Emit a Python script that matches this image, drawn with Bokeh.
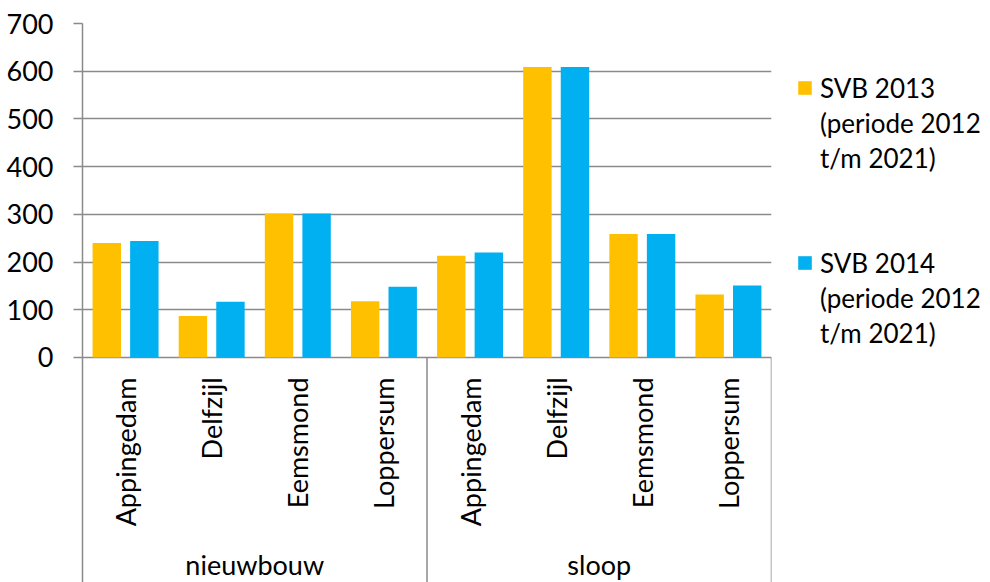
import math

from bokeh.core.properties import value
from bokeh.embed import file_html
from bokeh.models import (ColumnDataSource, FactorRange, FixedTicker, Legend,
                          LegendItem, Range1d)
from bokeh.plotting import figure
from bokeh.resources import INLINE
from bokeh.transform import dodge

# Woningbouwopgave per gemeente: nieuwbouw en sloop
groups = ["nieuwbouw", "sloop"]
municipalities = ["Appingedam", "Delfzijl", "Eemsmond", "Loppersum"]
svb_2013 = [240, 87, 302, 118, 213, 609, 259, 132]
svb_2014 = [244, 117, 302, 148, 220, 609, 259, 151]
series_names = ["SVB 2013", "SVB 2014"]
series_period = ["(periode 2012", "t/m 2021)"]
y_ticks = [0, 100, 200, 300, 400, 500, 600, 700]

FONT = value("Lato")
GRID = "#8a8a8a"
ORANGE = "#FFC000"
BLUE = "#00B0F0"

factors = [(g, m) for g in groups for m in municipalities]
source = ColumnDataSource(dict(x=factors, a=svb_2013, b=svb_2014))

x_range = FactorRange(*factors, factor_padding=0, group_padding=0,
                      range_padding=0)
# the frame runs down to the bottom of the page; the category labels
# sit below zero inside it
y_range = Range1d(-471.6, 700)

p = figure(frame_width=689, frame_height=559, x_range=x_range,
           y_range=y_range, output_backend="svg", toolbar_location=None,
           x_axis_location=None, min_border_left=82, min_border_right=0,
           min_border_top=23, min_border_bottom=0)
p.outline_line_color = None
p.background_fill_color = "white"

# y axis
yaxis = p.yaxis[0]
yaxis.ticker = FixedTicker(ticks=y_ticks)
yaxis.axis_line_color = GRID
yaxis.axis_line_width = 1.5
yaxis.major_tick_line_color = GRID
yaxis.major_tick_line_width = 1.5
yaxis.major_tick_out = 9
yaxis.major_tick_in = 0
yaxis.minor_tick_line_color = None
yaxis.major_label_standoff = 20
yaxis.major_label_text_font = "Lato"
yaxis.major_label_text_font_size = "27px"
yaxis.major_label_text_color = "black"

p.ygrid.ticker = FixedTicker(ticks=y_ticks)
p.ygrid.grid_line_color = GRID
p.ygrid.grid_line_width = 1.5
p.xgrid.grid_line_color = None

# bars
r2013 = p.vbar(x=dodge("x", -0.218, range=x_range), top="a", width=0.33,
               source=source, fill_color=ORANGE, line_color=None)
r2014 = p.vbar(x=dodge("x", 0.218, range=x_range), top="b", width=0.33,
               source=source, fill_color=BLUE, line_color=None)

# category labels under the zero line
p.text(x=factors, y=[0] * len(factors), text=[m for g, m in factors],
       angle=math.pi / 2, y_offset=20, text_align="right",
       text_baseline="middle", text_font=FONT, text_font_size="27px",
       text_color="black")
p.text(x=groups, y=[0] * len(groups), text=groups, y_offset=207,
       text_align="center", text_baseline="middle", text_font=FONT,
       text_font_size="27px", text_color="black")

# separators between and after the groups
bounds = [(g, municipalities[-1], 0.5) for g in groups]
p.segment(x0=bounds, y0=[0] * len(bounds), x1=bounds,
          y1=[y_range.start] * len(bounds), line_color=GRID, line_width=1.5)

# legend: one row per text line, swatch on the first line of each entry
items = []
for name, renderer in zip(series_names, [r2013, r2014]):
    if items:
        items += [LegendItem(label=" ", renderers=[]),
                  LegendItem(label=" ", renderers=[])]
    items.append(LegendItem(label=name, renderers=[renderer]))
    items += [LegendItem(label=line, renderers=[]) for line in series_period]

legend = Legend(items=items, location=(25, 232), orientation="vertical")
legend.border_line_color = None
legend.background_fill_alpha = 0
legend.padding = 0
legend.margin = 0
legend.spacing = 0
legend.label_height = 35
legend.glyph_width = 17
legend.glyph_height = 17
legend.label_standoff = 7
legend.label_text_font = "Lato"
legend.label_text_font_size = "26px"
legend.label_text_color = "black"
p.add_layout(legend, "right")

open("out.html", "w").write(file_html(p, INLINE))
